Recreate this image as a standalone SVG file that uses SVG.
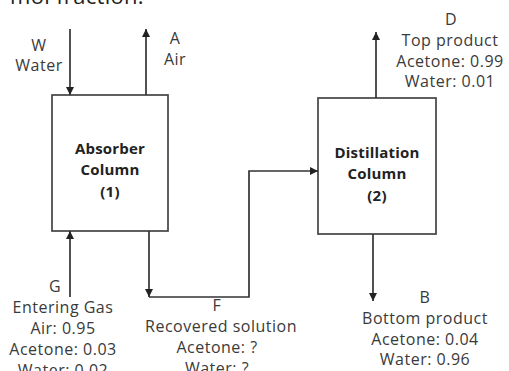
<svg xmlns="http://www.w3.org/2000/svg" width="509" height="371" viewBox="0 0 509 371">
<defs>
<marker id="arr" viewBox="0 0 10 10" refX="10" refY="5" markerWidth="8" markerHeight="8" markerUnits="userSpaceOnUse" orient="auto">
<path d="M0,0 L10,5 L0,10 z" fill="#222"/>
</marker>
<style>
text{font-family:"Open Sans","Noto Sans","Liberation Sans",sans-serif;font-size:16px;fill:#3a3a3a;text-anchor:middle;letter-spacing:0.5px}
.b{font-weight:bold;font-size:15px;letter-spacing:0.2px;fill:#222}
.box{fill:#fff;stroke:#444;stroke-width:1.7}
.ln{fill:none;stroke:#333;stroke-width:1.7}
</style>
</defs>
<rect width="509" height="371" fill="#fff"/>
<text x="77" y="4" style="font-size:22px;letter-spacing:0.3px;fill:#222">mol fraction.</text>
<g id="absorber">
<rect class="box" x="52" y="95" width="116" height="136"/>
<text class="b" x="110" y="154">Absorber</text>
<text class="b" x="110" y="175">Column</text>
<text class="b" x="110" y="197">(1)</text>
</g>
<g id="distillation">
<rect class="box" x="318" y="98" width="118" height="136"/>
<text class="b" x="377" y="158">Distillation</text>
<text class="b" x="377" y="179">Column</text>
<text class="b" x="377" y="201">(2)</text>
</g>
<g id="connectors">
<line class="ln" x1="70" y1="29" x2="70" y2="95" marker-end="url(#arr)"/>
<line class="ln" x1="146" y1="95" x2="146" y2="29" marker-end="url(#arr)"/>
<line class="ln" x1="70" y1="297" x2="70" y2="231" marker-end="url(#arr)"/>
<line class="ln" x1="149" y1="231" x2="149" y2="297" marker-end="url(#arr)"/>
<polyline class="ln" points="149,297 249,297 249,171 318,171" marker-end="url(#arr)"/>
<line class="ln" x1="376" y1="98" x2="376" y2="32" marker-end="url(#arr)"/>
<line class="ln" x1="373" y1="234" x2="373" y2="301" marker-end="url(#arr)"/>
</g>
<g id="label-W">
<text x="39" y="51">W</text>
<text x="39" y="71">Water</text>
</g>
<g id="label-A">
<text x="175" y="44">A</text>
<text x="175" y="65">Air</text>
</g>
<g id="label-G">
<text x="55" y="292">G</text>
<text x="63" y="313">Entering Gas</text>
<text x="63" y="334">Air: 0.95</text>
<text x="63" y="355">Acetone: 0.03</text>
<text x="63" y="376">Water: 0.02</text>
</g>
<g id="label-F">
<text x="217" y="311">F</text>
<text x="221" y="332">Recovered solution</text>
<text x="217" y="353">Acetone: ?</text>
<text x="217" y="374">Water: ?</text>
</g>
<g id="label-D">
<text x="451" y="25">D</text>
<text x="450" y="46">Top product</text>
<text x="450" y="67">Acetone: 0.99</text>
<text x="450" y="87">Water: 0.01</text>
</g>
<g id="label-B">
<text x="425" y="303">B</text>
<text x="425" y="324">Bottom product</text>
<text x="425" y="345">Acetone: 0.04</text>
<text x="425" y="365">Water: 0.96</text>
</g>
</svg>
